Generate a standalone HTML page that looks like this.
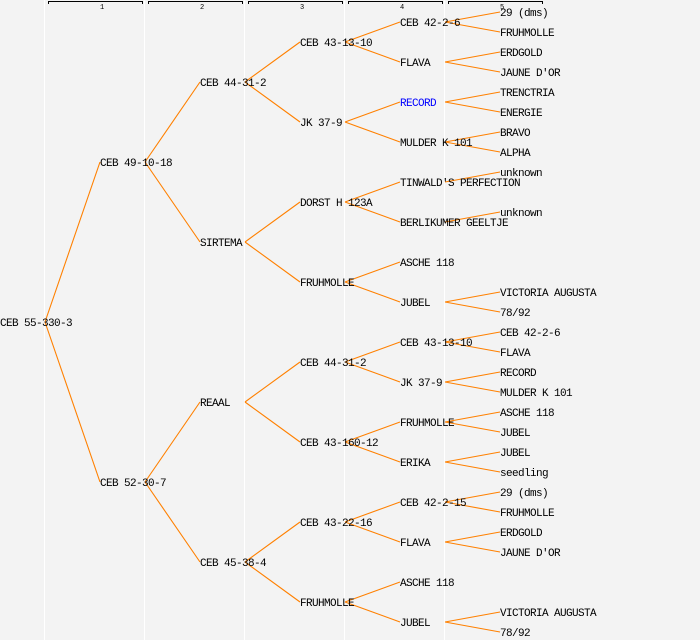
<!DOCTYPE html>
<html><head><meta charset="utf-8"><style>
html,body{margin:0;padding:0;background:#f3f3f3;}
svg{display:block}
text{font-family:"Liberation Mono",monospace;font-size:11px;letter-spacing:-0.6px;fill:#000}
.n{font-size:7px;letter-spacing:0}
</style></head><body>
<svg width="700" height="640" viewBox="0 0 700 640" xmlns="http://www.w3.org/2000/svg">
<rect width="700" height="640" fill="#f3f3f3"/>
<g stroke="#fff" stroke-width="1">
<line x1="44.5" y1="0" x2="44.5" y2="640"/><line x1="144.5" y1="0" x2="144.5" y2="640"/>
<line x1="244.5" y1="0" x2="244.5" y2="640"/><line x1="344.5" y1="0" x2="344.5" y2="640"/>
<line x1="444.5" y1="0" x2="444.5" y2="640"/>
</g>
<g stroke="#000" stroke-width="1" fill="none">
<path d="M48.5 4V1.5H142.5V4"/><path d="M148.5 4V1.5H242.5V4"/><path d="M248.5 4V1.5H342.5V4"/>
<path d="M348.5 4V1.5H442.5V4"/><path d="M448.5 4V1.5H542.5V4"/>
</g>
<text class="n" x="100" y="9">1</text><text class="n" x="200" y="9">2</text><text class="n" x="300" y="9">3</text><text class="n" x="400" y="9">4</text><text class="n" x="500" y="9">5</text>
<g stroke="#ff8000" stroke-width="1.1" fill="none">
<path d="M45 322L100 162M45 322L100 482"/>
<path d="M145 162L200 82M145 162L200 242M145 482L200 402M145 482L200 562"/>
<path d="M245 82L300 42M245 82L300 122M245 242L300 202M245 242L300 282M245 402L300 362M245 402L300 442M245 562L300 522M245 562L300 602"/>
<path d="M345 42L400 22M345 42L400 62M345 122L400 102M345 122L400 142M345 202L400 182M345 202L400 222M345 282L400 262M345 282L400 302M345 362L400 342M345 362L400 382M345 442L400 422M345 442L400 462M345 522L400 502M345 522L400 542M345 602L400 582M345 602L400 622"/>
<path d="M445 22L500 12M445 22L500 32M445 62L500 52M445 62L500 72M445 102L500 92M445 102L500 112M445 142L500 132M445 142L500 152M445 182L500 172M445 222L500 212M445 302L500 292M445 302L500 312M445 342L500 332M445 342L500 352M445 382L500 372M445 382L500 392M445 422L500 412M445 422L500 432M445 462L500 452M445 462L500 472M445 502L500 492M445 502L500 512M445 542L500 532M445 542L500 552M445 622L500 612M445 622L500 632"/>
</g>
<g>
<text x="0" y="326">CEB 55-330-3</text>
<text x="100" y="166">CEB 49-10-18</text><text x="100" y="486">CEB 52-30-7</text>
<text x="200" y="86">CEB 44-31-2</text><text x="200" y="246">SIRTEMA</text><text x="200" y="406">REAAL</text><text x="200" y="566">CEB 45-38-4</text>
<text x="300" y="46">CEB 43-13-10</text><text x="300" y="126">JK 37-9</text><text x="300" y="206">DORST H 123A</text><text x="300" y="286">FRUHMOLLE</text>
<text x="300" y="366">CEB 44-31-2</text><text x="300" y="446">CEB 43-160-12</text><text x="300" y="526">CEB 43-22-16</text><text x="300" y="606">FRUHMOLLE</text>
<text x="400" y="26">CEB 42-2-6</text><text x="400" y="66">FLAVA</text><text x="400" y="106" style="fill:#0000ff">RECORD</text><text x="400" y="146">MULDER K 101</text>
<text x="400" y="186">TINWALD'S PERFECTION</text><text x="400" y="226">BERLIKUMER GEELTJE</text><text x="400" y="266">ASCHE 118</text><text x="400" y="306">JUBEL</text>
<text x="400" y="346">CEB 43-13-10</text><text x="400" y="386">JK 37-9</text><text x="400" y="426">FRUHMOLLE</text><text x="400" y="466">ERIKA</text>
<text x="400" y="506">CEB 42-2-15</text><text x="400" y="546">FLAVA</text><text x="400" y="586">ASCHE 118</text><text x="400" y="626">JUBEL</text>
<text x="500" y="16">29 (dms)</text><text x="500" y="36">FRUHMOLLE</text><text x="500" y="56">ERDGOLD</text><text x="500" y="76">JAUNE D'OR</text>
<text x="500" y="96">TRENCTRIA</text><text x="500" y="116">ENERGIE</text><text x="500" y="136">BRAVO</text><text x="500" y="156">ALPHA</text>
<text x="500" y="176">unknown</text><text x="500" y="216">unknown</text>
<text x="500" y="296">VICTORIA AUGUSTA</text><text x="500" y="316">78/92</text>
<text x="500" y="336">CEB 42-2-6</text><text x="500" y="356">FLAVA</text><text x="500" y="376">RECORD</text><text x="500" y="396">MULDER K 101</text>
<text x="500" y="416">ASCHE 118</text><text x="500" y="436">JUBEL</text><text x="500" y="456">JUBEL</text><text x="500" y="476">seedling</text>
<text x="500" y="496">29 (dms)</text><text x="500" y="516">FRUHMOLLE</text><text x="500" y="536">ERDGOLD</text><text x="500" y="556">JAUNE D'OR</text>
<text x="500" y="616">VICTORIA AUGUSTA</text><text x="500" y="636">78/92</text>
</g>
</svg>
</body></html>
